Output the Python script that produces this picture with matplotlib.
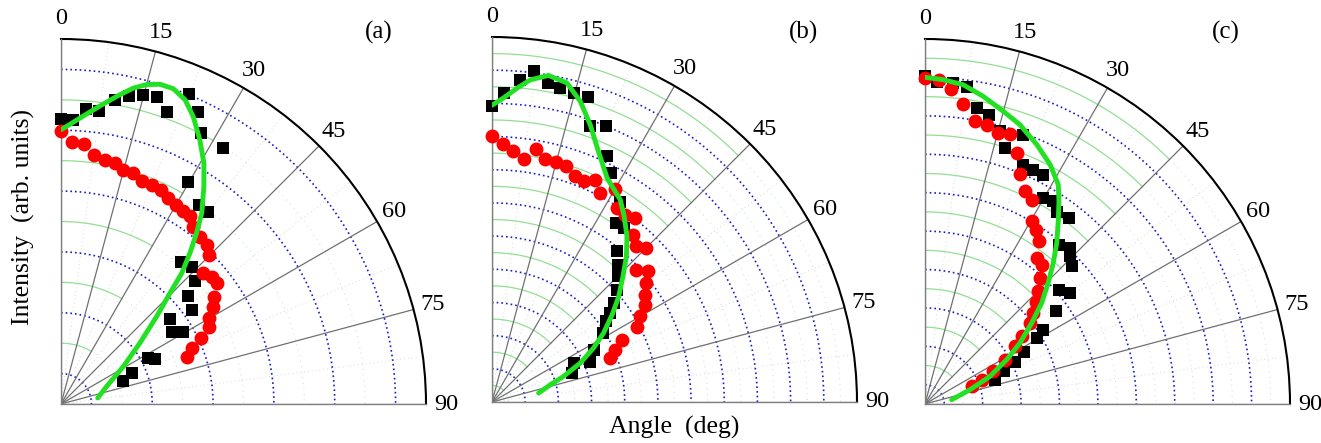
import numpy as np
import matplotlib
matplotlib.use('Agg')
import matplotlib.pyplot as plt

plt.rcParams['font.family'] = ['Liberation Serif', 'DejaVu Serif']

# ---------------- data (angle in degrees, intensity normalised) ----------------
angle_ticks = [0, 15, 30, 45, 60, 75, 90]

black_a_deg = [0.0, 2.4, 4.8, 7.3, 10.0, 12.5, 14.9, 17.3, 19.9, 22.5, 25.1, 27.4, 29.8, 32.3,
               34.7, 37.5, 40.1, 43.6, 47.5, 49.6, 52.2, 54.4, 56.9, 59.4, 62.1, 64.6, 66.5, 69.5]
black_a_r = [0.782, 0.780, 0.811, 0.810, 0.845, 0.863, 0.875, 0.880, 0.851, 0.919, 0.883, 0.836,
             0.701, 0.829, 0.662, 0.663, 0.510, 0.519, 0.498, 0.458, 0.378, 0.442, 0.362, 0.389,
             0.271, 0.285, 0.211, 0.181]
red_a_deg = [0, 2.5, 5.1, 7.6, 10.2, 12.6, 14.9, 17.4, 20.0, 22.5, 25.0, 27.5, 30.0, 32.3, 34.5,
             36.7, 39.7, 42.5, 44.8, 47.4, 49.8, 52.2, 55.0, 57.4, 59.9, 62.4, 64.9, 67.0, 69.5]
red_a_r = [0.749, 0.718, 0.714, 0.688, 0.679, 0.676, 0.663, 0.662, 0.651, 0.649, 0.647, 0.636,
           0.629, 0.627, 0.625, 0.606, 0.596, 0.591, 0.575, 0.529, 0.540, 0.540, 0.513, 0.495,
           0.469, 0.457, 0.424, 0.391, 0.370]
green_a_deg = [0.1, 4.4, 7.5, 10.3, 12.9, 15.0, 17.2, 19.6, 22.2, 24.7, 27.7, 30.7, 33.3, 36.4,
               38.4, 40.5, 42.7, 44.5, 47.5, 52.3, 58.9, 68.9, 80.7]
green_a_r = [0.752, 0.791, 0.824, 0.857, 0.888, 0.906, 0.917, 0.917, 0.900, 0.867, 0.818, 0.767,
             0.713, 0.650, 0.598, 0.544, 0.488, 0.426, 0.356, 0.273, 0.200, 0.134, 0.102]

black_b_deg = [0, 2.3, 4.9, 7.3, 9.9, 12.3, 14.8, 17.4, 19.6, 22.4, 25.1, 27.5, 32.5, 34.8, 37.1,
               39.8, 42.5, 45.0, 48.1, 50.8, 52.9, 54.8, 58.3, 62.8, 64.5, 67.6, 70.1]
black_b_r = [0.810, 0.847, 0.886, 0.913, 0.887, 0.880, 0.876, 0.877, 0.802, 0.819, 0.743, 0.707,
             0.651, 0.597, 0.598, 0.537, 0.510, 0.487, 0.460, 0.430, 0.404, 0.383, 0.359, 0.313,
             0.248, 0.291, 0.233]
red_b_deg = [0, 2.4, 4.9, 7.4, 9.9, 12.4, 15.0, 17.4, 20.3, 22.7, 24.9, 27.4, 30.1, 32.8, 35.4,
             37.9, 40.2, 42.8, 45.1, 47.5, 50.0, 52.4, 55.0, 57.6, 60.0, 62.6, 64.4, 67.0, 69.6]
red_b_r = [0.728, 0.707, 0.689, 0.672, 0.704, 0.682, 0.682, 0.679, 0.659, 0.655, 0.672, 0.645,
           0.673, 0.632, 0.630, 0.639, 0.600, 0.581, 0.597, 0.536, 0.557, 0.534, 0.513, 0.497,
           0.469, 0.449, 0.395, 0.367, 0.346]
green_b_deg = [0, 2.2, 4.6, 6.8, 9.8, 13.2, 16.4, 19.5, 23.0, 27.2, 32.4, 35.5, 39.2, 42.7, 46.2,
               50.2, 54.0, 58.3, 62.0, 66.2, 70.3, 73.5, 79.1]
green_b_r = [0.813, 0.834, 0.863, 0.889, 0.908, 0.898, 0.858, 0.806, 0.746, 0.690, 0.656, 0.624,
             0.585, 0.543, 0.497, 0.452, 0.407, 0.359, 0.315, 0.264, 0.208, 0.167, 0.130]

black_c_deg = [0, 2.2, 5.0, 7.5, 9.9, 12.4, 15.4, 17.4, 20.1, 22.3, 24.8, 27.3, 29.9, 32.3, 34.4,
               37.8, 40.1, 42.9, 44.5, 46.8, 49.6, 52.6, 54.7, 57.7, 59.4, 62.0, 65.0, 67.6, 70.7]
black_c_r = [0.898, 0.882, 0.883, 0.876, 0.823, 0.811, 0.775, 0.735, 0.785, 0.709, 0.707, 0.707,
             0.651, 0.657, 0.639, 0.645, 0.571, 0.583, 0.567, 0.551, 0.483, 0.500, 0.440, 0.381,
             0.355, 0.306, 0.273, 0.235, 0.202]
red_c_deg = [0, 2.5, 4.8, 7.3, 10.0, 12.5, 15.1, 17.5, 20.1, 22.4, 25.1, 27.6, 30.3, 32.5, 35.1,
             37.4, 40.0, 42.4, 45.2, 47.3, 50.0, 52.4, 55.0, 57.4, 61.0, 64.5, 66.8, 69.4]
red_c_r = [0.893, 0.889, 0.867, 0.829, 0.786, 0.782, 0.769, 0.776, 0.732, 0.682, 0.645, 0.631,
           0.580, 0.566, 0.545, 0.504, 0.498, 0.467, 0.438, 0.414, 0.388, 0.363, 0.323, 0.293,
           0.251, 0.207, 0.169, 0.137]
green_c_deg = [0, 3.2, 6.8, 10.7, 15.0, 18.8, 23.3, 27.6, 31.3, 33.5, 35.9, 39.3, 42.3, 45.5,
               49.1, 52.8, 57.3, 61.5, 67.0, 72.4, 80.9]
green_c_r = [0.895, 0.890, 0.881, 0.858, 0.830, 0.808, 0.774, 0.740, 0.703, 0.665, 0.623, 0.570,
             0.522, 0.473, 0.423, 0.367, 0.309, 0.255, 0.193, 0.129, 0.074]

panel_labels = ['(a)', '(b)', '(c)']

# ---------------- figure ----------------
W, H = 1321, 443
fig = plt.figure(figsize=(W / 100, H / 100), dpi=100)
R_PX = 365

BLUE = '#1c1cc8'
GREEN_GRID = '#92df92'
GREEN_FAINT = '#c6ecc6'
LINE_GREEN = '#22e022'
TICK_FS = 17.5
LABEL_FS = 18.5


def make_axes(ox, oy):
    rect = [ox / W, (H - oy) / H, R_PX / W, R_PX / H]
    ax = fig.add_axes(rect, projection='polar')
    ax.set_theta_zero_location('N')
    ax.set_theta_direction(-1)
    ax.set_thetamin(0)
    ax.set_thetamax(90)
    ax.set_rlim(0, 1)
    ax.set_yticks([])
    ax.yaxis.grid(False)
    ax.set_xticks(np.deg2rad(angle_ticks))
    ax.set_xticklabels([])
    ax.set_xticks(np.deg2rad(np.arange(7.5, 90, 15)), minor=True)
    ax.tick_params(axis='x', which='major', direction='in', length=10, width=1.3, color='black')
    ax.tick_params(axis='x', which='minor', direction='in', length=6, width=1.0, color='black')
    ax.xaxis.grid(True, which='major', color='#707070', lw=0.9)
    ax.spines['polar'].set_linewidth(1.5)
    for s in ('start', 'end'):
        ax.spines[s].set_color('#808080')
        ax.spines[s].set_linewidth(1.0)
    for a in angle_ticks:
        ax.text(np.deg2rad(a), 1.055, str(a), ha='center', va='center', fontsize=TICK_FS,
                clip_on=False)
    return ax


def draw_grid(ax, blue_r, green_r, solid_until):
    th = np.linspace(0, np.pi / 2, 400)
    th_s = np.linspace(0, np.deg2rad(solid_until), 200)
    th_f = np.linspace(np.deg2rad(solid_until), np.pi / 2, 300)
    # faint intermediate radial lines
    for a in np.arange(7.5, 90, 15):
        ax.plot([np.deg2rad(a)] * 2, [0, 1], color='#d8d8d8', lw=0.7, ls=(0, (1, 3)), zorder=0.5)
    for r in green_r:
        ax.plot(th_s, np.full_like(th_s, r), color=GREEN_GRID, lw=0.9, zorder=0.6)
        ax.plot(th_f, np.full_like(th_f, r), color=GREEN_FAINT, lw=0.8, ls=(0, (1, 4)), zorder=0.6)
    for r in blue_r:
        ax.plot(th, np.full_like(th, r), color=BLUE, lw=1.2, ls=(0, (1, 1.8)), zorder=0.7)


def draw_data(ax, bdeg, br, rdeg, rr, gdeg, gr):
    ax.plot(np.deg2rad(bdeg), br, ls='none', marker='s', ms=9, color='black', mew=0, zorder=3,
            clip_on=False)
    ax.plot(np.deg2rad(rdeg), rr, ls='none', marker='o', ms=10, color='#ff0000', mew=0, zorder=4,
            clip_on=False)
    ax.plot(np.deg2rad(gdeg), gr, color=LINE_GREEN, lw=3.5, zorder=5, solid_capstyle='round',
            solid_joinstyle='round')


# panel (a)
ax_a = make_axes(61, 404)
u = 1 / 6
draw_grid(ax_a, [(k + 0.5) * u for k in range(6)], [k * u for k in range(1, 6)], 30)
draw_data(ax_a, black_a_deg, black_a_r, red_a_deg, red_a_r, green_a_deg, green_a_r)

# panel (b)
ax_b = make_axes(492, 402)
u = 1 / 11
draw_grid(ax_b, [k * u for k in range(1, 11)], [(k + 0.5) * u for k in range(11)], 45)
draw_data(ax_b, black_b_deg, black_b_r, red_b_deg, red_b_r, green_b_deg, green_b_r)

# panel (c)
ax_c = make_axes(925, 404)
u = 1 / 9.5
draw_grid(ax_c, [(k + 0.5) * u for k in range(9)], [k * u for k in range(1, 10)], 45)
draw_data(ax_c, black_c_deg, black_c_r, red_c_deg, red_c_r, green_c_deg, green_c_r)

for lab, xpx in zip(panel_labels, [379, 803, 1226]):
    fig.text(xpx / W, 1 - 32 / H, lab, ha='center', va='center', fontsize=18)

fig.text(23 / W, 1 - 217 / H, 'Intensity  (arb. units)', rotation=90, ha='center', va='center',
         fontsize=LABEL_FS)
fig.text(674 / W, 1 - 427 / H, 'Angle  (deg)', ha='center', va='center', fontsize=LABEL_FS)

fig.savefig('out.png', dpi=100)
